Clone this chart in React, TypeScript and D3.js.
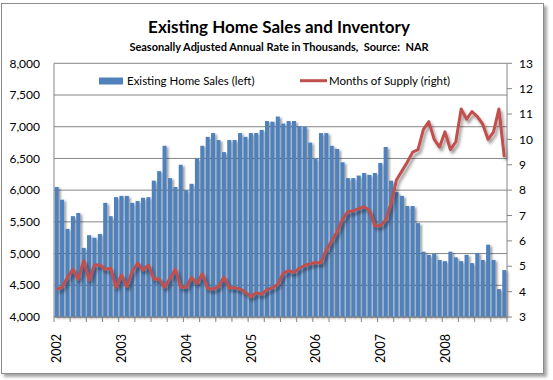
import React from "react";
import * as d3 from "d3";

const years = ["2002", "2003", "2004", "2005", "2006", "2007", "2008"];
const monthNames = ["Jan", "Feb", "Mar", "Apr", "May", "Jun", "Jul", "Aug", "Sep", "Oct", "Nov", "Dec"];
const months = years.flatMap((y) => monthNames.map((m) => `${m} ${y}`));

// Existing Home Sales, SAAR, thousands (left axis)
const homeSales = [
  6050, 5850, 5390, 5590, 5640, 5090, 5290, 5250, 5310, 5800, 5590, 5890,
  5910, 5910, 5800, 5830, 5880, 5890, 6150, 6300, 6700, 6190, 6050, 6400,
  6000, 6100, 6500, 6700, 6840, 6900, 6790, 6600, 6790, 6790, 6900, 6840,
  6900, 6900, 6950, 7090, 7080, 7160, 7050, 7090, 7090, 7010, 7000, 6750,
  6500, 6900, 6900, 6700, 6650, 6440, 6190, 6190, 6230, 6270, 6240, 6270,
  6430, 6680, 6150, 5970, 5910, 5750, 5750, 5480, 5030, 4980, 5000, 4900,
  4880, 5030, 4940, 4880, 4980, 4850, 5010, 4900, 5140, 4900, 4440, 4740,
];

// Months of Supply (right axis)
const monthsSupply = [
  4.09, 4.17, 4.56, 4.88, 4.49, 5.22, 4.46, 5.05, 5.05, 4.88, 4.92, 4.17,
  4.66, 4.2, 4.79, 5.12, 4.85, 5.05, 4.5, 4.5, 4.17, 4.52, 4.88, 4.17,
  4.17, 4.56, 4.33, 4.7, 4.12, 4.1, 4.2, 4.57, 4.15, 4.15, 4.1, 3.97,
  3.8, 3.96, 3.89, 4.08, 4.15, 4.29, 4.72, 4.83, 4.76, 4.92, 5.03, 5.1,
  5.15, 5.14, 5.64, 6.0, 6.36, 6.85, 7.15, 7.18, 7.27, 7.35, 7.2, 6.6,
  6.6, 6.82, 7.48, 8.4, 8.75, 9.1, 9.5, 9.6, 10.4, 10.7, 10.0, 9.7,
  10.3, 9.6, 9.9, 11.2, 10.8, 11.1, 10.9, 10.6, 10.0, 10.3, 11.2, 9.3,
];

const leftTicks = [4000, 4500, 5000, 5500, 6000, 6500, 7000, 7500, 8000];
const rightTicks = [3, 4, 5, 6, 7, 8, 9, 10, 11, 12, 13];
const seriesNames = ["Existing Home Sales (left)", "Months of Supply (right)"];
const title = "Existing Home Sales and Inventory";
const subtitle = "Seasonally Adjusted Annual Rate in Thousands,  Source:  NAR";

const FONT = "Lato, 'Open Sans', sans-serif";
const BLUE = "#4F81BD";
const RED = "#C0504D";
const GRID = "#868686";

export default function App() {
  React.useEffect(() => {
    document.body.style.margin = "0";
  }, []);

  const W = 553;
  const H = 380;
  const L = 54, R = 507, T = 63.3, B = 317;

  const x = d3
    .scaleBand<number>()
    .domain(d3.range(months.length))
    .range([L, R])
    .paddingInner(0.25)
    .paddingOuter(0.125);
  const xb = d3.scaleLinear().domain([0, months.length]).range([L, R]);
  const yL = d3.scaleLinear().domain([4000, 8000]).range([B, T]);
  const yR = d3.scaleLinear().domain([3, 13]).range([B, T]);

  const line = d3
    .line<number>()
    .x((_, i) => (x(i) as number) + x.bandwidth() / 2)
    .y((d) => yR(d))
    .curve(d3.curveLinear);

  const tickIdx = d3.range(0, months.length + 1, 3);

  return (
    <svg
      width={W}
      height={H}
      style={{ position: "absolute", left: 0, top: 0, background: "#fff" }}
      fontFamily={FONT}
    >
      <defs>
        <filter id="frameShadow" x="-5%" y="-5%" width="115%" height="115%">
          <feDropShadow dx="3" dy="3" stdDeviation="1.5" floodColor="#000" floodOpacity="0.35" />
        </filter>
        <filter id="barShadow" x="-10%" y="-10%" width="120%" height="120%">
          <feDropShadow dx="2" dy="1.5" stdDeviation="1.2" floodColor="#000" floodOpacity="0.38" />
        </filter>
        <filter id="lineShadow" x="-10%" y="-10%" width="120%" height="130%">
          <feDropShadow dx="2" dy="3" stdDeviation="1.5" floodColor="#000" floodOpacity="0.4" />
        </filter>
      </defs>

      <rect x={1.5} y={3.5} width={542} height={370} fill="#fff" stroke="#8c8c8c" strokeWidth={1} filter="url(#frameShadow)" />

      <text x={279} y={33} textAnchor="middle" fontSize={17} fontWeight="bold" fill="#000">
        {title}
      </text>
      <text x={279} y={51} textAnchor="middle" fontSize={11} fontWeight="bold" fill="#000" style={{ whiteSpace: "pre" }}>
        {subtitle}
      </text>

      {/* gridlines */}
      {leftTicks.map((t) => (
        <line key={"g" + t} x1={L} x2={R} y1={yL(t)} y2={yL(t)} stroke={GRID} strokeWidth={1} />
      ))}

      {/* legend */}
      <rect x={99} y={77.5} width={24} height={7} fill={BLUE} />
      <text x={127} y={85} fontSize={11.5} fill="#000">{seriesNames[0]}</text>
      <line x1={300} x2={327} y1={80.7} y2={80.7} stroke={RED} strokeWidth={3} />
      <text x={329} y={85} fontSize={11.5} fill="#000">{seriesNames[1]}</text>

      {/* bars */}
      <g filter="url(#barShadow)">
        {homeSales.map((v, i) => (
          <rect key={"b" + i} x={x(i)} y={yL(v)} width={x.bandwidth()} height={B - yL(v)} fill={BLUE} />
        ))}
      </g>

      {/* axes */}
      <line x1={L} x2={L} y1={T} y2={B} stroke={GRID} />
      <line x1={R} x2={R} y1={T} y2={B} stroke={GRID} />
      <line x1={L} x2={R} y1={B} y2={B} stroke={GRID} />
      {rightTicks.map((t) => (
        <line key={"rt" + t} x1={R} x2={R + 5} y1={yR(t)} y2={yR(t)} stroke={GRID} />
      ))}
      {tickIdx.map((i) => (
        <line key={"xt" + i} x1={xb(i)} x2={xb(i)} y1={B} y2={B + 5} stroke={GRID} />
      ))}

      {/* line */}
      <path d={line(monthsSupply) || ""} fill="none" stroke={RED} strokeWidth={3} strokeLinejoin="round" filter="url(#lineShadow)" />

      {/* left labels */}
      {leftTicks.map((t) => (
        <text key={"ll" + t} x={40} y={yL(t)} dy="0.35em" textAnchor="end" fontSize={12} fill="#000">
          {d3.format(",")(t)}
        </text>
      ))}
      {/* right labels */}
      {rightTicks.map((t) => (
        <text key={"rl" + t} x={519} y={yR(t)} dy="0.35em" textAnchor="start" fontSize={12} fill="#000">
          {t}
        </text>
      ))}
      {/* year labels */}
      {years.map((yr, k) => (
        <text
          key={"y" + yr}
          transform={`translate(${xb(k * 12) + 3},${334}) rotate(-90)`}
          dy="0.35em"
          textAnchor="end"
          fontSize={12.5}
          fill="#000"
        >
          {yr}
        </text>
      ))}
    </svg>
  );
}
